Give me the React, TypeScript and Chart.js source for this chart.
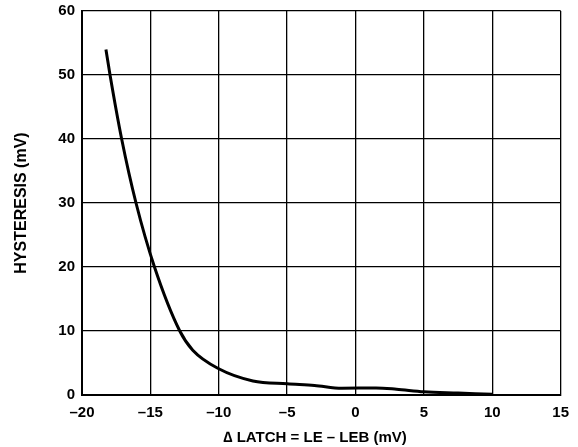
import React, { useEffect, useRef } from "react";
import { Chart, registerables } from "chart.js";

Chart.register(...registerables);

const latchMv = [-18.25, -17.95, -17.1, -16.05, -14.7, -12.85, -11.9, -10, -7.5, -5, -3, -1, 1.5, 3, 5, 7.5, 10];
const hysteresisMv = [54, 50, 40, 30, 20, 10, 7, 4.1, 2.2, 1.75, 1.5, 1.05, 1.1, 0.9, 0.5, 0.3, 0.1];

const xTicks = [-20, -15, -10, -5, 0, 5, 10, 15];
const yTicks = [0, 10, 20, 30, 40, 50, 60];

const xTitle = "\u2206 LATCH = LE \u2013 LEB (mV)   ";
const yTitle = "HYSTERESIS (mV)";

const FONT = "'Liberation Sans', Arial, sans-serif";

export default function App() {
  const ref = useRef<HTMLCanvasElement | null>(null);

  useEffect(() => {
    document.body.style.margin = "0";
    const canvas = ref.current;
    if (!canvas) return;
    const points = latchMv.map((x, i) => ({ x, y: hysteresisMv[i] }));
    const chart = new Chart(canvas, {
      type: "line",
      data: {
        datasets: [
          {
            data: points,
            borderColor: "#000",
            borderWidth: 3,
            pointRadius: 0,
            fill: false,
            cubicInterpolationMode: "monotone",
          },
        ],
      },
      options: {
        animation: false,
        responsive: false,
        maintainAspectRatio: false,
        layout: { padding: { top: 11, right: 16, left: 0, bottom: 0 } },
        plugins: { legend: { display: false }, tooltip: { enabled: false } },
        scales: {
          x: {
            type: "linear",
            min: -20,
            max: 15,
            afterBuildTicks: (s: any) => {
              s.ticks = xTicks.map((v) => ({ value: v }));
            },
            afterFit: (s: any) => {
              s.height = 52;
            },
            grid: { color: "#000", lineWidth: 1.3, drawTicks: false },
            border: { color: "#000", width: 2 },
            ticks: {
              color: "#000",
              padding: 9,
              font: { family: FONT, size: 15, weight: "bold" },
              callback: (v: any) => String(v).replace("-", "\u2013"),
            },
            title: {
              display: true,
              text: xTitle,
              color: "#000",
              padding: { top: 1, bottom: 0 },
              font: { family: FONT, size: 15, weight: "bold" },
            },
          },
          y: {
            type: "linear",
            min: 0,
            max: 60,
            afterBuildTicks: (s: any) => {
              s.ticks = yTicks.map((v) => ({ value: v }));
            },
            afterFit: (s: any) => {
              s.width = 82;
              s.paddingTop = 0;
              s.paddingBottom = 0;
            },
            grid: { color: "#000", lineWidth: 1.3, drawTicks: false },
            border: { color: "#000", width: 2 },
            ticks: {
              color: "#000",
              padding: 7,
              font: { family: FONT, size: 15, weight: "bold" },
            },
            title: {
              display: true,
              text: yTitle,
              color: "#000",
              padding: { top: 12, bottom: 0 },
              font: { family: FONT, size: 16, weight: "bold" },
            },
          },
        },
      },
    });
    return () => chart.destroy();
  }, []);

  return (
    <div style={{ width: 578, height: 447, background: "#fff" }}>
      <canvas ref={ref} width={578} height={447} style={{ width: 578, height: 447, display: "block" }} />
    </div>
  );
}
